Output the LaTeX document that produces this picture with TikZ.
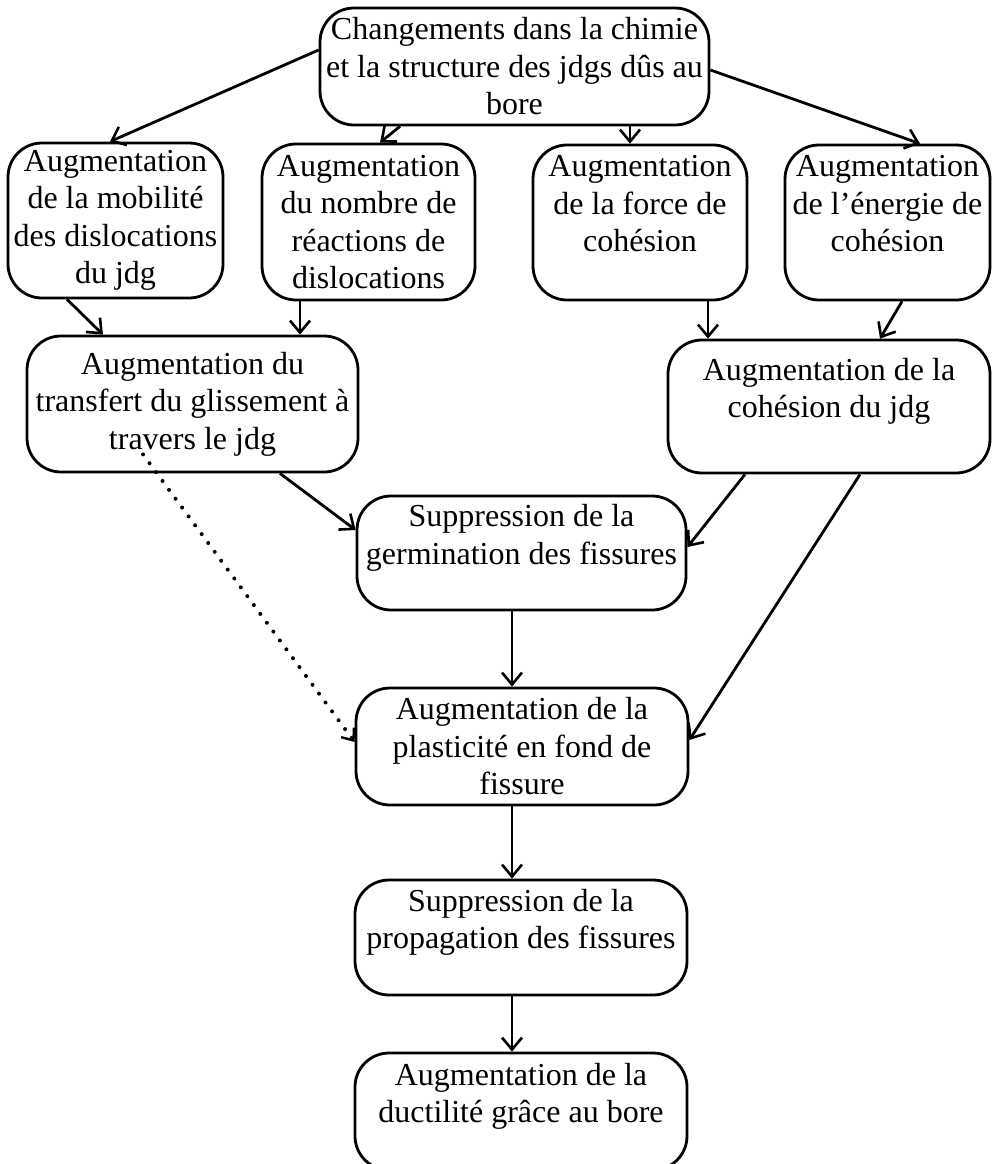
\documentclass[tikz,border=0pt]{standalone}
\usepackage{fontspec}
\setmainfont{Liberation Serif}
\usetikzlibrary{arrows.meta}
\begin{document}
\begin{tikzpicture}[x=1pt,y=1pt,
  box/.style={draw=black, line width=2.8pt, rounded corners=34pt, align=center,
    inner sep=2pt, font=\fontsize{32}{37.5}\selectfont},
  arr/.style={line width=2.8pt, -{Straight Barb[length=12pt,width=20pt,line width=2.6pt]}},
  dotarr/.style={line width=4pt, dash pattern=on 0pt off 11pt, line cap=round,
    -{Straight Barb[length=10pt,width=16pt,line width=2.4pt]}}
]
\useasboundingbox (0,0) rectangle (992,-1164);

\node[box, minimum width=389pt, minimum height=117pt] (T) at (514.5,-66.5)
  {Changements dans la chimie\\et la structure des jdgs dûs au\\bore};

\node[box, minimum width=215pt, minimum height=155pt] (A1) at (115.5,-220.5)
  {Augmentation\\de la mobilité\\des dislocations\\du jdg};
\node[box, minimum width=213pt, minimum height=156pt] (A2) at (368.5,-222)
  {Augmentation\\du nombre de\\réactions de\\dislocations};
\node[box, minimum width=214pt, minimum height=155pt] (A3) at (640,-222.5)
  {Augmentation\\de la force de\\cohésion\\\mbox{}};
\node[box, minimum width=205pt, minimum height=155pt] (A4) at (887.5,-222.5)
  {Augmentation\\de l’énergie de\\cohésion\\\mbox{}};

\node[box, minimum width=331pt, minimum height=136pt] (B1) at (192.5,-404)
  {Augmentation du\\transfert du glissement à\\travers le jdg};
\node[box, minimum width=322pt, minimum height=133pt] (B2) at (829,-406.5)
  {Augmentation de la\\cohésion du jdg\\\mbox{}};

\node[box, minimum width=329pt, minimum height=114pt] (G) at (521.5,-553)
  {Suppression de la\\germination des fissures\\\mbox{}};
\node[box, minimum width=332pt, minimum height=117pt] (P) at (522,-746.5)
  {Augmentation de la\\plasticité en fond de\\fissure};
\node[box, minimum width=332pt, minimum height=115pt] (S) at (521,-937.5)
  {Suppression de la\\propagation des fissures\\\mbox{}};
\node[box, minimum width=332pt, minimum height=117pt] (D) at (521,-1111.5)
  {Augmentation de la\\ductilité grâce au bore\\\mbox{}};

\draw[arr] ([yshift=16.5pt]T.west) -- ([xshift=-5.5pt]A1.north);
\draw[arr] ([xshift=-114.5pt]T.south) -- ([xshift=11.5pt]A2.north);
\draw[arr] ([xshift=115.5pt]T.south) -- ([xshift=-10pt]A3.north);
\draw[arr] ([yshift=-3.5pt]T.east) -- ([xshift=32.5pt]A4.north);

\draw[arr] ([xshift=-48.5pt]A1.south) -- ([xshift=-89.5pt]B1.north);
\draw[arr] ([xshift=-68.5pt]A2.south) -- ([xshift=107.5pt]B1.north);
\draw[arr] ([xshift=68pt]A3.south) -- ([xshift=-121pt]B2.north);
\draw[arr] ([xshift=14.5pt]A4.south) -- ([xshift=51pt]B2.north);

\draw[arr] ([xshift=87.5pt]B1.south) -- ([yshift=23pt]G.west);
\draw[arr] ([xshift=-84pt]B2.south) -- ([yshift=6pt]G.east);
\draw[arr] ([xshift=31pt]B2.south) -- ([yshift=6.5pt]P.east);
\draw[dotarr] ([xshift=-49.5pt,yshift=19pt]B1.south) -- ([yshift=4.5pt]P.west);

\draw[arr] ([xshift=-9.5pt]G.south) -- ([xshift=-10pt]P.north);
\draw[arr] ([xshift=-10pt]P.south) -- ([xshift=-9pt]S.north);
\draw[arr] ([xshift=-9pt]S.south) -- ([xshift=-9pt]D.north);
\end{tikzpicture}
\end{document}
